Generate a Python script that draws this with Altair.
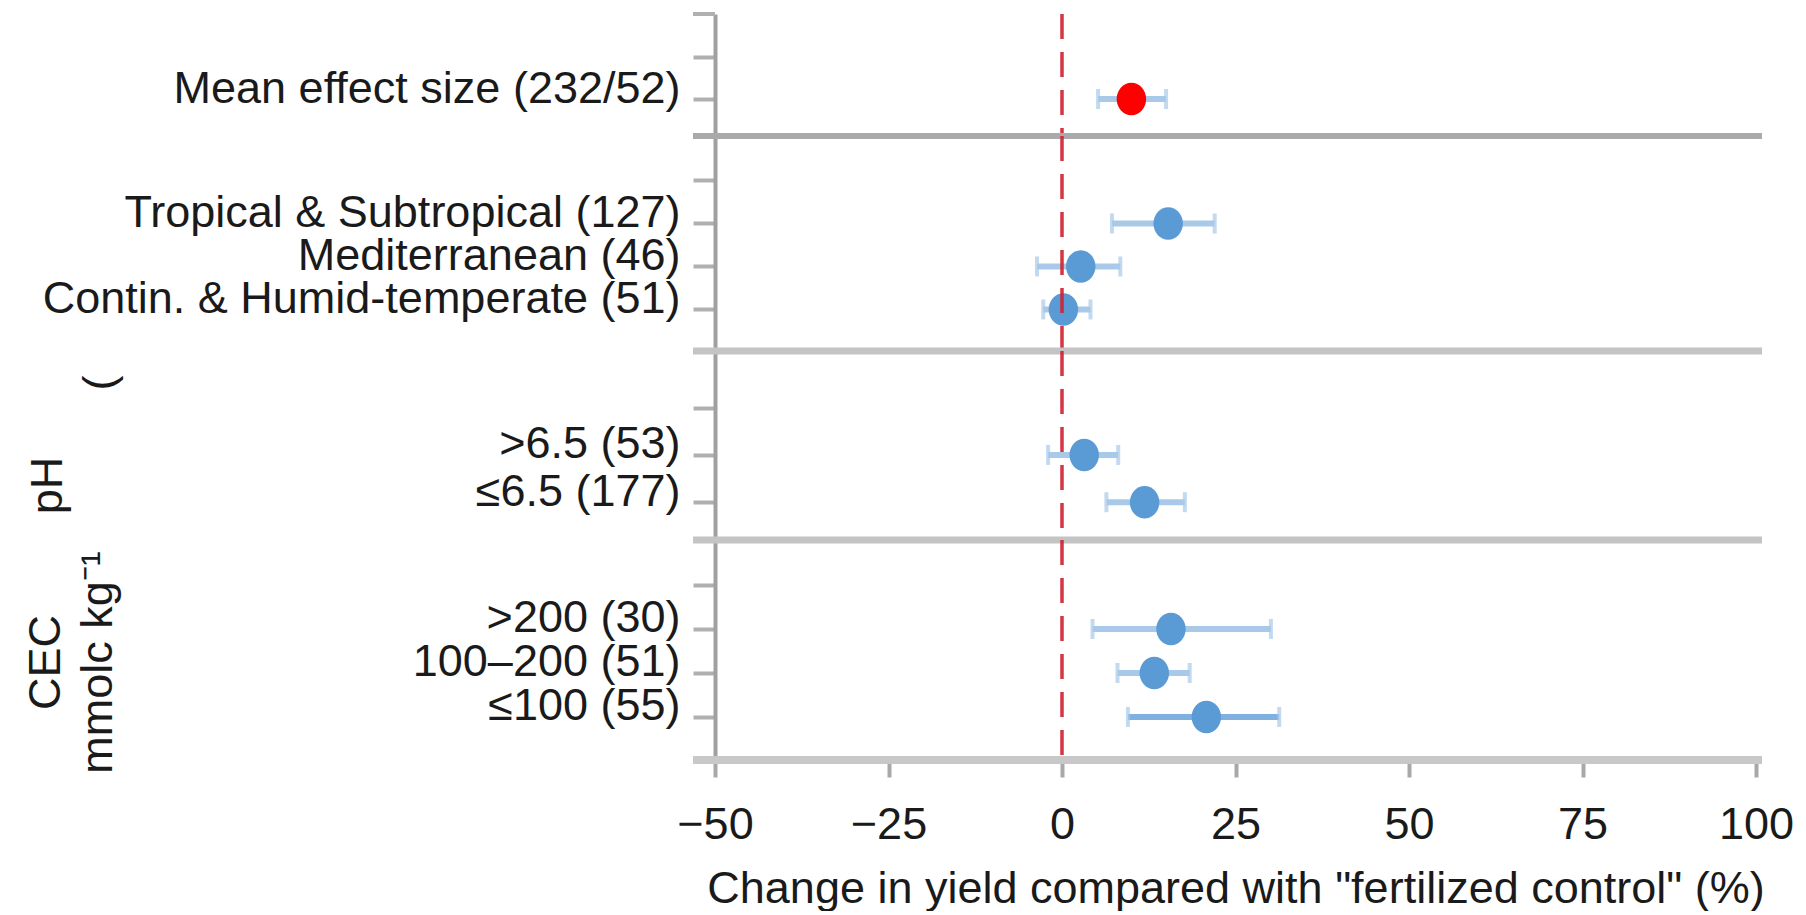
import altair as alt
import pandas as pd

FONT = "Liberation Sans"
FS = 45
W = 1041
BLUE = "#5b9bd5"
RED = "#ff0000"
BAR = "#a9c9e8"
BAR_DARK = "#7fb0e0"
TXT = "#1a1a1a"
ZERO = "#d02030"
ELLIPSE = "M0,-1.1 A1,1.1 0 1,1 0,1.1 A1,1.1 0 1,1 0,-1.1 Z"

# ---- data ----
mean_labels = ["Mean effect size (232/52)"]
mean_values = [10.0]
mean_lower = [5.2]
mean_upper = [15.0]

climate_labels = ["Tropical & Subtropical (127)", "Mediterranean (46)", "Contin. & Humid-temperate (51)"]
climate_values = [15.3, 2.7, 0.2]
climate_lower = [7.2, -3.6, -2.7]
climate_upper = [22.0, 8.4, 4.1]

ph_labels = [">6.5 (53)", "≤6.5 (177)"]
ph_values = [3.2, 11.9]
ph_lower = [-2.0, 6.4]
ph_upper = [8.1, 17.7]

cec_labels = [">200 (30)", "100–200 (51)", "≤100 (55)"]
cec_values = [15.7, 13.3, 20.8]
cec_lower = [4.4, 8.0, 9.5]
cec_upper = [30.1, 18.4, 31.3]

x_ticks = [-50, -25, 0, 25, 50, 75, 100]
x_title = 'Change in yield compared with "fertilized control" (%)'
ph_title = "pH"
cec_title = ["CEC", "mmolc kg⁻¹"]


def frame(labels, values, lower, upper):
    return pd.DataFrame({"label": labels, "value": values, "lower": lower, "upper": upper})


xscale = alt.Scale(domain=[-50, 100], nice=False, zero=False)
one = alt.Data(values=[{}])
bar_color = alt.condition(alt.datum.label == "≤100 (55)", alt.value(BAR_DARK), alt.value(BAR))


def panel(df, domain, height, pad, align, pcolor, sep_color=None, sep_width=0,
          bottom=False, top_tick=False, ytitle=None, extra=None):
    ax_kw = dict(
        labelExpr="indexof(datum.value,'_')==0 ? '' : datum.value",
        labelBaseline="alphabetic", labelOffset=3, labelPadding=13, labelLimit=900,
        tickSize=22, tickWidth=4, tickColor="#b0b0b0",
        domainColor="#a0a0a0", domainWidth=4, title=None,
    )
    if ytitle is not None:
        ax_kw.update(ytitle)
    y = alt.Y("label:N", sort=domain,
              scale=alt.Scale(type="point", domain=domain, padding=pad, align=align),
              axis=alt.Axis(**ax_kw))
    if bottom:
        xaxis = alt.Axis(values=x_ticks, tickSize=17, tickWidth=4, tickColor="#a8a8a8",
                         domain=False, labelPadding=25, labelFlush=False, title=x_title,
                         titleBaseline="alphabetic", titleY=142)
    else:
        xaxis = None
    base = alt.Chart(df)
    layers = []
    if sep_color:
        layers.append(alt.Chart(one).mark_rule(color=sep_color, strokeWidth=sep_width).encode(
            x=alt.value(-22), x2=alt.value(W + 6), y=alt.value(0)))
    if top_tick:
        layers.append(alt.Chart(one).mark_rule(color="#b0b0b0", strokeWidth=4).encode(
            x=alt.value(-22), x2=alt.value(0), y=alt.value(0)))
    if bottom:
        layers.append(alt.Chart(one).mark_rule(color="#c8c8c8", strokeWidth=8).encode(
            x=alt.value(-22), x2=alt.value(W + 6), y=alt.value(height)))
    layers.append(base.mark_rule(strokeWidth=6).encode(
        x=alt.X("lower:Q", scale=xscale, axis=xaxis), x2="upper:Q", y=y, color=bar_color))
    layers.append(base.mark_tick(color=BAR, thickness=4, size=20).encode(
        x=alt.X("lower:Q", scale=xscale, axis=xaxis), y=y))
    layers.append(base.mark_tick(color=BAR, thickness=4, size=20).encode(
        x=alt.X("upper:Q", scale=xscale, axis=xaxis), y=y))
    layers.append(base.mark_point(shape=ELLIPSE, filled=True, size=870, opacity=1,
                                  color=pcolor, strokeWidth=0).encode(
        x=alt.X("value:Q", scale=xscale, axis=xaxis), y=y))
    layers.append(alt.Chart(one).mark_rule(color=ZERO, strokeWidth=3.5, strokeDash=[25, 13],
                                           opacity=0.9).encode(
        x=alt.XDatum(0, scale=xscale, axis=xaxis), y=alt.value(0), y2=alt.value(height)))
    if extra is not None:
        layers.append(extra)
    return alt.layer(*layers).properties(width=W, height=height)


p1 = panel(frame(mean_labels, mean_values, mean_lower, mean_upper),
           ["_b"] + mean_labels, 122, 0.935, 0.535, RED, top_tick=True)
p2 = panel(frame(climate_labels, climate_values, climate_lower, climate_upper),
           ["_c"] + climate_labels, 215, 1.02, 0.517, BLUE, sep_color="#aaaaaa", sep_width=6)
brace = alt.Chart(one).mark_text(text="(", angle=270, fontSize=FS, font=FONT, color=TXT,
                                 align="center", baseline="middle").encode(
    x=alt.value(-615), y=alt.value(32))
p3 = panel(frame(ph_labels, ph_values, ph_lower, ph_upper),
           ["_d"] + ph_labels, 189, 1.124, 0.6, BLUE, sep_color="#c4c4c4", sep_width=7,
           ytitle=dict(title=ph_title, titleX=-668, titleY=134, titleAngle=270,
                       titleAlign="center", titleBaseline="middle"),
           extra=brace)
p4 = panel(frame(cec_labels, cec_values, cec_lower, cec_upper),
           ["_e"] + cec_labels, 220, 1.078, 0.511, BLUE, sep_color="#c4c4c4", sep_width=7,
           bottom=True,
           ytitle=dict(title=cec_title, titleX=-670, titleY=122, titleAngle=270,
                       titleAlign="center", titleBaseline="middle", titleLineHeight=52))

chart = alt.vconcat(p1, p2, p3, p4, spacing=0, bounds="flush").configure_view(
    stroke=None
).configure_axis(
    labelFont=FONT, titleFont=FONT, labelFontSize=FS, titleFontSize=FS,
    labelColor=TXT, titleColor=TXT, titleFontWeight="normal", grid=False
).properties(
    padding={"left": 23, "top": 12, "right": 8, "bottom": 0},
    background="white"
)

chart.save("out.html", embed_options={"renderer": "svg", "actions": False})
